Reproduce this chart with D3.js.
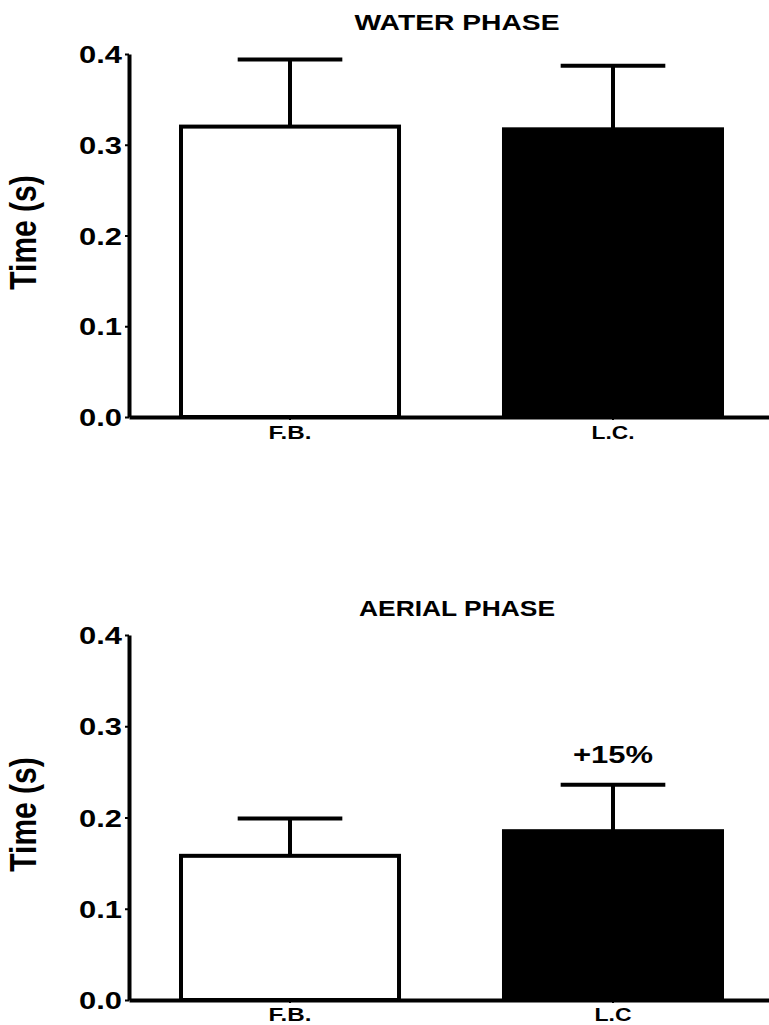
<!DOCTYPE html>
<html>
<head>
<meta charset="utf-8">
<script src="https://cdn.jsdelivr.net/npm/d3@7"></script>
<style>
  html, body { margin: 0; padding: 0; background: #fff; }
  svg { display: block; }
  text { font-family: "Liberation Sans", Arial, sans-serif; font-weight: bold; fill: #000; }
</style>
</head>
<body>
<svg id="chart" width="769" height="1025"></svg>
<script>
// ---- data ----
const categoriesWater = ["F.B.", "L.C."];
const categoriesAerial = ["F.B.", "L.C"];
const waterMean = [0.320, 0.317];
const waterSem = [0.074, 0.070];
const aerialMean = [0.158, 0.185];
const aerialSem = [0.041, 0.051];
const barFills = ["#ffffff", "#000000"];
const yTicks = [0.0, 0.1, 0.2, 0.3, 0.4];
const titles = ["WATER PHASE", "AERIAL PHASE"];
const yTitle = "Time (s)";
const annotation = "+15%";

const svg = d3.select("#chart");

function panel(cfg) {
  const g = svg.append("g");
  const x = d3.scaleBand().domain(cfg.categories).range([129, 774])
    .paddingInner(0.325).paddingOuter(0.161);
  const y = d3.scaleLinear().domain([0, 0.4]).range([cfg.y0, cfg.y1]);

  const data = cfg.categories.map((c, i) => ({ c, m: cfg.mean[i], e: cfg.sem[i], f: barFills[i] }));
  // error bars (drawn behind bar)
  const eb = g.append("g");
  eb.selectAll("line.v").data(data).join("line")
    .attr("x1", d => x(d.c) + x.bandwidth() / 2)
    .attr("x2", d => x(d.c) + x.bandwidth() / 2)
    .attr("y1", d => y(d.m)).attr("y2", d => y(d.m + d.e))
    .attr("stroke", "#000").attr("stroke-width", 4);
  eb.selectAll("line.c").data(data).join("line")
    .attr("x1", d => x(d.c) + x.bandwidth() * 0.26)
    .attr("x2", d => x(d.c) + x.bandwidth() * 0.74)
    .attr("y1", d => y(d.m + d.e)).attr("y2", d => y(d.m + d.e))
    .attr("stroke", "#000").attr("stroke-width", 4);

  g.selectAll("rect.bar").data(data).join("rect")
    .attr("x", d => x(d.c)).attr("width", x.bandwidth())
    .attr("y", d => y(d.m)).attr("height", d => y(0) - y(d.m))
    .attr("fill", d => d.f).attr("stroke", "#000").attr("stroke-width", 4);

  // y axis
  const ya = g.append("g").attr("transform", "translate(129,0)")
    .call(d3.axisLeft(y).tickValues(yTicks).tickFormat(d3.format(".1f")).tickSize(4).tickSizeOuter(0).tickPadding(3));
  ya.select(".domain").attr("stroke-width", 4);
  ya.selectAll(".tick line").attr("stroke-width", 2);
  ya.selectAll(".tick text").attr("font-size", 24).attr("textLength", 43)
    .attr("lengthAdjust", "spacingAndGlyphs").attr("dy", "0.36em");

  // x axis
  const xa = g.append("g").attr("transform", `translate(0,${cfg.y0})`)
    .call(d3.axisBottom(x).tickSize(3).tickSizeOuter(0).tickPadding(5));
  xa.select(".domain").attr("stroke-width", 4);
  xa.selectAll(".tick line").attr("stroke-width", 2);
  xa.selectAll(".tick text").attr("font-size", 18.5)
    .attr("textLength", (d) => d === "L.C" ? 37 : 43)
    .attr("lengthAdjust", "spacingAndGlyphs")
    .attr("y", 0).attr("dy", 0)
    .attr("transform", `translate(0,${cfg.labelY - cfg.y0})`);

  // title
  g.append("text").attr("x", 457).attr("y", cfg.titleY).attr("text-anchor", "middle")
    .attr("font-size", 22).attr("textLength", cfg.titleLen).attr("lengthAdjust", "spacingAndGlyphs")
    .text(cfg.title);

  // y title
  g.append("text")
    .attr("transform", `translate(36,${(cfg.y0 + cfg.y1) / 2 - 3}) scale(1.2,1) rotate(-90)`)
    .attr("text-anchor", "middle").attr("font-size", 30).text(yTitle);

  return { g, x, y, data };
}

const p1 = panel({ categories: categoriesWater, mean: waterMean, sem: waterSem,
  y0: 417, y1: 54, labelY: 439, titleY: 30, title: titles[0], titleLen: 205 });
const p2 = panel({ categories: categoriesAerial, mean: aerialMean, sem: aerialSem,
  y0: 1000, y1: 635, labelY: 1021, titleY: 616, title: titles[1], titleLen: 196 });

// annotation above L.C. aerial
const d2 = p2.data[1];
p2.g.append("text")
  .attr("x", p2.x(d2.c) + p2.x.bandwidth() / 2)
  .attr("y", p2.y(d2.m + d2.e) - 22)
  .attr("text-anchor", "middle").attr("font-size", 23)
  .attr("textLength", 80).attr("lengthAdjust", "spacingAndGlyphs")
  .text(annotation);
</script>
</body>
</html>
